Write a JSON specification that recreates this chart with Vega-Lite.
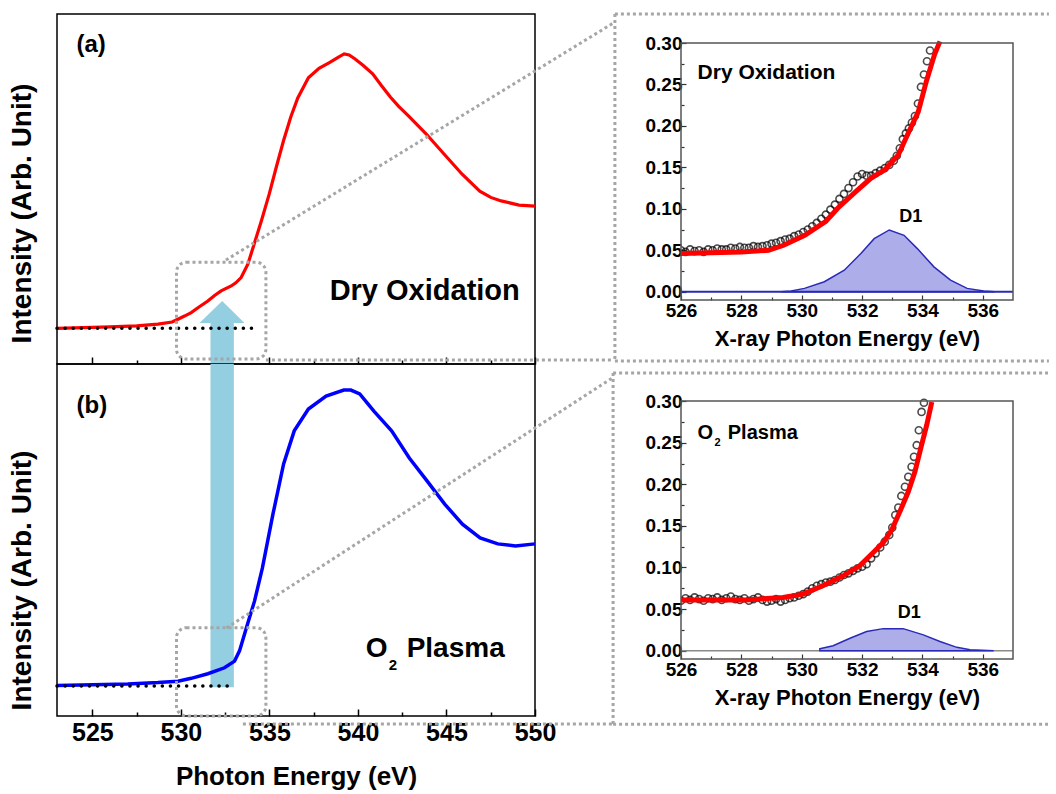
{
  "$schema": "https://vega.github.io/schema/vega-lite/v6.json",
  "padding": {"left": 7, "top": 12, "right": 0, "bottom": 0},
  "background": "white",
  "config": {
    "font": "Liberation Sans",
    "view": {"stroke": "black", "strokeWidth": 1.5},
    "axis": {"labelFont": "Liberation Sans", "titleFont": "Liberation Sans", "labelFontWeight": "bold", "titleFontWeight": "bold", "labelColor": "black", "titleColor": "black", "labelFlush": false, "labelOverlap": false, "grid": false, "domain": false},
    "text": {"font": "Liberation Sans", "fontWeight": "bold", "color": "black"}
  },
  "datasets": {
    "red": [
      {"energy": 523.0, "intensity": 0.102}, {"energy": 524.5, "intensity": 0.104}, {"energy": 526.0, "intensity": 0.106},
      {"energy": 527.5, "intensity": 0.109}, {"energy": 528.7, "intensity": 0.114}, {"energy": 529.5, "intensity": 0.120},
      {"energy": 529.83, "intensity": 0.128}, {"energy": 530.2, "intensity": 0.137}, {"energy": 530.58, "intensity": 0.147},
      {"energy": 531.0, "intensity": 0.162}, {"energy": 531.52, "intensity": 0.180}, {"energy": 531.9, "intensity": 0.196},
      {"energy": 532.27, "intensity": 0.209}, {"energy": 532.84, "intensity": 0.223}, {"energy": 533.1, "intensity": 0.232},
      {"energy": 533.4, "intensity": 0.247}, {"energy": 533.78, "intensity": 0.285}, {"energy": 534.15, "intensity": 0.345},
      {"energy": 534.55, "intensity": 0.41}, {"energy": 534.99, "intensity": 0.486}, {"energy": 535.4, "intensity": 0.565},
      {"energy": 535.79, "intensity": 0.637}, {"energy": 536.2, "intensity": 0.705}, {"energy": 536.6, "intensity": 0.760},
      {"energy": 537.2, "intensity": 0.818}, {"energy": 537.8, "intensity": 0.845}, {"energy": 538.41, "intensity": 0.862},
      {"energy": 538.9, "intensity": 0.877}, {"energy": 539.22, "intensity": 0.886}, {"energy": 539.5, "intensity": 0.883},
      {"energy": 539.82, "intensity": 0.872}, {"energy": 540.3, "intensity": 0.853}, {"energy": 540.83, "intensity": 0.829},
      {"energy": 541.3, "intensity": 0.797}, {"energy": 541.84, "intensity": 0.762}, {"energy": 542.3, "intensity": 0.736},
      {"energy": 542.85, "intensity": 0.709}, {"energy": 543.86, "intensity": 0.657}, {"energy": 544.86, "intensity": 0.600},
      {"energy": 545.87, "intensity": 0.543}, {"energy": 546.88, "intensity": 0.494}, {"energy": 547.5, "intensity": 0.476},
      {"energy": 548.09, "intensity": 0.466}, {"energy": 549.1, "intensity": 0.454}, {"energy": 550.0, "intensity": 0.451}
    ],
    "blue": [
      {"energy": 523.0, "intensity": 0.087}, {"energy": 525.0, "intensity": 0.089}, {"energy": 527.0, "intensity": 0.091},
      {"energy": 528.7, "intensity": 0.095}, {"energy": 529.83, "intensity": 0.099}, {"energy": 530.58, "intensity": 0.107},
      {"energy": 531.52, "intensity": 0.120}, {"energy": 532.46, "intensity": 0.137}, {"energy": 533.03, "intensity": 0.156},
      {"energy": 533.31, "intensity": 0.185}, {"energy": 533.59, "intensity": 0.232}, {"energy": 533.87, "intensity": 0.279},
      {"energy": 534.16, "intensity": 0.327}, {"energy": 534.6, "intensity": 0.420}, {"energy": 535.2, "intensity": 0.574},
      {"energy": 535.8, "intensity": 0.716}, {"energy": 536.4, "intensity": 0.810}, {"energy": 537.2, "intensity": 0.872},
      {"energy": 538.2, "intensity": 0.909}, {"energy": 539.2, "intensity": 0.926}, {"energy": 539.6, "intensity": 0.926},
      {"energy": 540.1, "intensity": 0.915}, {"energy": 540.9, "intensity": 0.866}, {"energy": 541.9, "intensity": 0.810},
      {"energy": 542.9, "intensity": 0.733}, {"energy": 543.9, "intensity": 0.668}, {"energy": 544.9, "intensity": 0.602},
      {"energy": 545.9, "intensity": 0.545}, {"energy": 546.9, "intensity": 0.506}, {"energy": 547.9, "intensity": 0.489},
      {"energy": 548.9, "intensity": 0.483}, {"energy": 550.0, "intensity": 0.489}
    ],
    "insA_pts": [
      {"energy": 526.0, "value": 0.050}, {"energy": 526.15, "value": 0.048}, {"energy": 526.3, "value": 0.051}, {"energy": 526.45, "value": 0.049},
      {"energy": 526.6, "value": 0.050}, {"energy": 526.75, "value": 0.048}, {"energy": 526.9, "value": 0.051}, {"energy": 527.05, "value": 0.050},
      {"energy": 527.2, "value": 0.052}, {"energy": 527.35, "value": 0.051}, {"energy": 527.5, "value": 0.051}, {"energy": 527.65, "value": 0.053},
      {"energy": 527.8, "value": 0.052}, {"energy": 527.95, "value": 0.054}, {"energy": 528.1, "value": 0.053}, {"energy": 528.25, "value": 0.053},
      {"energy": 528.4, "value": 0.055}, {"energy": 528.55, "value": 0.054}, {"energy": 528.7, "value": 0.055}, {"energy": 528.85, "value": 0.056},
      {"energy": 529.0, "value": 0.058}, {"energy": 529.15, "value": 0.059}, {"energy": 529.3, "value": 0.061}, {"energy": 529.45, "value": 0.063},
      {"energy": 529.6, "value": 0.064}, {"energy": 529.75, "value": 0.067}, {"energy": 529.9, "value": 0.069}, {"energy": 530.05, "value": 0.072},
      {"energy": 530.2, "value": 0.075}, {"energy": 530.35, "value": 0.079}, {"energy": 530.5, "value": 0.083}, {"energy": 530.65, "value": 0.088},
      {"energy": 530.8, "value": 0.093}, {"energy": 530.95, "value": 0.099}, {"energy": 531.1, "value": 0.105}, {"energy": 531.25, "value": 0.112},
      {"energy": 531.4, "value": 0.118}, {"energy": 531.55, "value": 0.125}, {"energy": 531.7, "value": 0.132}, {"energy": 531.85, "value": 0.139},
      {"energy": 532.0, "value": 0.142}, {"energy": 532.15, "value": 0.140}, {"energy": 532.3, "value": 0.140}, {"energy": 532.45, "value": 0.143},
      {"energy": 532.6, "value": 0.146}, {"energy": 532.75, "value": 0.149}, {"energy": 532.9, "value": 0.153}, {"energy": 533.05, "value": 0.158},
      {"energy": 533.15, "value": 0.164}, {"energy": 533.25, "value": 0.173}, {"energy": 533.35, "value": 0.184}, {"energy": 533.45, "value": 0.191},
      {"energy": 533.55, "value": 0.197}, {"energy": 533.65, "value": 0.204}, {"energy": 533.75, "value": 0.212}, {"energy": 533.85, "value": 0.227},
      {"energy": 533.95, "value": 0.247}, {"energy": 534.05, "value": 0.262}, {"energy": 534.15, "value": 0.278}, {"energy": 534.25, "value": 0.291}
    ],
    "insA_fit": [
      {"energy": 526.0, "value": 0.046}, {"energy": 527.0, "value": 0.047}, {"energy": 528.0, "value": 0.048}, {"energy": 528.9, "value": 0.050},
      {"energy": 529.4, "value": 0.056}, {"energy": 530.1, "value": 0.068}, {"energy": 530.8, "value": 0.085}, {"energy": 531.2, "value": 0.101},
      {"energy": 531.8, "value": 0.121}, {"energy": 532.3, "value": 0.137}, {"energy": 532.75, "value": 0.147}, {"energy": 533.2, "value": 0.165},
      {"energy": 533.5, "value": 0.189}, {"energy": 533.86, "value": 0.217}, {"energy": 534.13, "value": 0.254}, {"energy": 534.4, "value": 0.286},
      {"energy": 534.58, "value": 0.302}
    ],
    "insA_d1": [
      {"energy": 529.3, "value": 0.0}, {"energy": 529.65, "value": 0.001}, {"energy": 530.09, "value": 0.004}, {"energy": 530.75, "value": 0.012},
      {"energy": 531.41, "value": 0.026}, {"energy": 531.96, "value": 0.046}, {"energy": 532.4, "value": 0.064}, {"energy": 532.9, "value": 0.0745},
      {"energy": 533.39, "value": 0.068}, {"energy": 533.83, "value": 0.052}, {"energy": 534.38, "value": 0.030}, {"energy": 534.93, "value": 0.014},
      {"energy": 535.48, "value": 0.004}, {"energy": 536.03, "value": 0.001}, {"energy": 536.4, "value": 0.0}
    ],
    "insB_pts": [
      {"energy": 526.0, "value": 0.060}, {"energy": 526.15, "value": 0.063}, {"energy": 526.3, "value": 0.061}, {"energy": 526.45, "value": 0.064},
      {"energy": 526.6, "value": 0.062}, {"energy": 526.75, "value": 0.060}, {"energy": 526.9, "value": 0.063}, {"energy": 527.05, "value": 0.062},
      {"energy": 527.2, "value": 0.064}, {"energy": 527.35, "value": 0.061}, {"energy": 527.5, "value": 0.063}, {"energy": 527.65, "value": 0.065},
      {"energy": 527.8, "value": 0.062}, {"energy": 527.95, "value": 0.061}, {"energy": 528.1, "value": 0.063}, {"energy": 528.25, "value": 0.060},
      {"energy": 528.4, "value": 0.062}, {"energy": 528.55, "value": 0.064}, {"energy": 528.7, "value": 0.061}, {"energy": 528.85, "value": 0.059},
      {"energy": 529.0, "value": 0.060}, {"energy": 529.15, "value": 0.062}, {"energy": 529.3, "value": 0.059}, {"energy": 529.45, "value": 0.061},
      {"energy": 529.6, "value": 0.063}, {"energy": 529.75, "value": 0.064}, {"energy": 529.9, "value": 0.066}, {"energy": 530.05, "value": 0.068},
      {"energy": 530.2, "value": 0.071}, {"energy": 530.35, "value": 0.075}, {"energy": 530.5, "value": 0.078}, {"energy": 530.65, "value": 0.080},
      {"energy": 530.8, "value": 0.082}, {"energy": 530.95, "value": 0.083}, {"energy": 531.1, "value": 0.085}, {"energy": 531.25, "value": 0.088},
      {"energy": 531.4, "value": 0.091}, {"energy": 531.55, "value": 0.093}, {"energy": 531.7, "value": 0.096}, {"energy": 531.85, "value": 0.099},
      {"energy": 532.0, "value": 0.101}, {"energy": 532.15, "value": 0.104}, {"energy": 532.3, "value": 0.111}, {"energy": 532.45, "value": 0.117},
      {"energy": 532.6, "value": 0.124}, {"energy": 532.75, "value": 0.131}, {"energy": 532.9, "value": 0.139}, {"energy": 533.0, "value": 0.148},
      {"energy": 533.1, "value": 0.163}, {"energy": 533.2, "value": 0.172}, {"energy": 533.3, "value": 0.186}, {"energy": 533.42, "value": 0.197},
      {"energy": 533.53, "value": 0.209}, {"energy": 533.64, "value": 0.221}, {"energy": 533.72, "value": 0.233}, {"energy": 533.81, "value": 0.247},
      {"energy": 533.88, "value": 0.265}, {"energy": 533.97, "value": 0.287}, {"energy": 534.05, "value": 0.298}
    ],
    "insB_fit": [
      {"energy": 526.0, "value": 0.061}, {"energy": 527.0, "value": 0.061}, {"energy": 528.16, "value": 0.061}, {"energy": 529.38, "value": 0.064},
      {"energy": 530.04, "value": 0.068}, {"energy": 530.7, "value": 0.078}, {"energy": 531.37, "value": 0.090}, {"energy": 531.92, "value": 0.102},
      {"energy": 532.37, "value": 0.118}, {"energy": 532.7, "value": 0.130}, {"energy": 532.98, "value": 0.145}, {"energy": 533.25, "value": 0.167},
      {"energy": 533.53, "value": 0.191}, {"energy": 533.75, "value": 0.215}, {"energy": 533.97, "value": 0.247}, {"energy": 534.14, "value": 0.271},
      {"energy": 534.31, "value": 0.299}
    ],
    "insB_d1": [
      {"energy": 530.6, "value": 0.0024}, {"energy": 531.04, "value": 0.006}, {"energy": 531.6, "value": 0.015}, {"energy": 532.15, "value": 0.023},
      {"energy": 532.7, "value": 0.0265}, {"energy": 533.36, "value": 0.0265}, {"energy": 534.03, "value": 0.019}, {"energy": 534.58, "value": 0.011},
      {"energy": 535.14, "value": 0.004}, {"energy": 535.58, "value": 0.0012}, {"energy": 536.36, "value": 0.0}
    ]
  },
  "bounds": "flush",
  "spacing": 624,
  "hconcat": [
    {
      "bounds": "flush",
      "spacing": 0,
      "vconcat": [
        {
          "width": 478, "height": 350,
          "encoding": {
            "x": {"field": "energy", "type": "quantitative", "scale": {"domain": [523, 550], "nice": false, "zero": false},
              "axis": {"values": [525, 527.5, 530, 532.5, 535, 537.5, 540, 542.5, 545, 547.5, 550], "labels": false, "title": null, "tickColor": "black", "tickWidth": 1.5,
                "tickSize": {"condition": {"test": "datum.value % 5 === 0", "value": -7}, "value": -4}}},
            "y": {"field": "intensity", "type": "quantitative", "scale": {"domain": [0, 1], "nice": false, "zero": false},
              "axis": {"title": "Intensity (Arb. Unit)", "labels": false, "ticks": false, "titleFontSize": 28, "titlePadding": 21, "titleY": 199}}
          },
          "layer": [
            {"data": {"values": [{"energy": 531.67, "energy2": 532.99, "intensity": 0, "intensity2": 0.117}]},
             "mark": {"type": "rect", "color": "#93cfe0"},
             "encoding": {"x2": {"field": "energy2"}, "y2": {"field": "intensity2"}}},
            {"data": {"values": [{"energy": 531.05, "intensity": 0.117}, {"energy": 532.33, "intensity": 0.18}, {"energy": 533.59, "intensity": 0.117}]},
             "mark": {"type": "area", "color": "#93cfe0"},
             "encoding": {"y2": {"datum": 0.117}}},
            {"data": {"name": "red"}, "mark": {"type": "line", "color": "#ff0000", "strokeWidth": 3.2}},
            {"data": {"values": [{"energy": 523, "energy2": 534.15, "intensity": 0.102}]},
             "mark": {"type": "rule", "color": "black", "strokeWidth": 3.5, "strokeDash": [0.1, 8], "strokeCap": "round"},
             "encoding": {"x2": {"field": "energy2"}}},
            {"data": {"values": [{"energy": 529.75, "energy2": 534.8, "intensity": 0.014, "intensity2": 0.291}]},
             "mark": {"type": "rect", "filled": false, "color": "#a6a6a6", "strokeWidth": 3, "strokeDash": [3, 3], "cornerRadius": 10, "clip": false},
             "encoding": {"x2": {"field": "energy2"}, "y2": {"field": "intensity2"}}},
            {"data": {"values": [{"energy": 532.54, "energy2": 554.45, "intensity": 0.297, "intensity2": 0.975}, {"energy": 534.8, "energy2": 554.45, "intensity": 0.0114, "intensity2": 0.0114}]},
             "mark": {"type": "rule", "color": "#a6a6a6", "strokeWidth": 3, "strokeDash": [3, 3], "clip": false},
             "encoding": {"x2": {"field": "energy2"}, "y2": {"field": "intensity2"}}},
            {"data": {"values": [{"energy": 524.1, "intensity": 0.911, "label": "(a)"}]},
             "mark": {"type": "text", "align": "left", "baseline": "middle", "fontSize": 24},
             "encoding": {"text": {"field": "label"}}},
            {"data": {"values": [{"energy": 538.4, "intensity": 0.209, "label": "Dry Oxidation"}]},
             "mark": {"type": "text", "align": "left", "baseline": "middle", "fontSize": 29},
             "encoding": {"text": {"field": "label"}}}
          ]
        },
        {
          "width": 478, "height": 352,
          "encoding": {
            "x": {"field": "energy", "type": "quantitative", "scale": {"domain": [523, 550], "nice": false, "zero": false},
              "axis": {"values": [525, 527.5, 530, 532.5, 535, 537.5, 540, 542.5, 545, 547.5, 550], "labelExpr": "datum.value % 5 === 0 ? datum.label : ''", "title": "Photon Energy (eV)",
                "tickColor": "black", "tickWidth": 1.5, "tickSize": {"condition": {"test": "datum.value % 5 === 0", "value": -7}, "value": -4},
                "labelFontSize": 25, "labelPadding": 11, "titleFontSize": 26, "titlePadding": 15}},
            "y": {"field": "intensity", "type": "quantitative", "scale": {"domain": [0, 1], "nice": false, "zero": false},
              "axis": {"title": "Intensity (Arb. Unit)", "labels": false, "ticks": false, "titleFontSize": 28, "titlePadding": 21, "titleY": 216}}
          },
          "layer": [
            {"data": {"values": [{"energy": 531.67, "energy2": 532.99, "intensity": 0.082, "intensity2": 1.0}]},
             "mark": {"type": "rect", "color": "#93cfe0"},
             "encoding": {"x2": {"field": "energy2"}, "y2": {"field": "intensity2"}}},
            {"data": {"name": "blue"}, "mark": {"type": "line", "color": "#0000ff", "strokeWidth": 3.5}},
            {"data": {"values": [{"energy": 523, "energy2": 532.97, "intensity": 0.085}]},
             "mark": {"type": "rule", "color": "black", "strokeWidth": 3.5, "strokeDash": [0.1, 8], "strokeCap": "round"},
             "encoding": {"x2": {"field": "energy2"}}},
            {"data": {"values": [{"energy": 529.75, "energy2": 534.8, "intensity": 0.0, "intensity2": 0.251}]},
             "mark": {"type": "rect", "filled": false, "color": "#a6a6a6", "strokeWidth": 3, "strokeDash": [3, 3], "cornerRadius": 10, "clip": false},
             "encoding": {"x2": {"field": "energy2"}, "y2": {"field": "intensity2"}}},
            {"data": {"values": [{"energy": 532.57, "energy2": 554.45, "intensity": 0.25, "intensity2": 0.963}, {"energy": 533.5, "energy2": 554.45, "intensity": -0.023, "intensity2": -0.023}]},
             "mark": {"type": "rule", "color": "#a6a6a6", "strokeWidth": 3, "strokeDash": [3, 3], "clip": false},
             "encoding": {"x2": {"field": "energy2"}, "y2": {"field": "intensity2"}}},
            {"data": {"values": [{"energy": 524.1, "intensity": 0.881, "label": "(b)"}]},
             "mark": {"type": "text", "align": "left", "baseline": "middle", "fontSize": 24},
             "encoding": {"text": {"field": "label"}}},
            {"data": {"values": [{"energy": 540.44, "intensity": 0.19, "label": "O"}, {"energy": 542.75, "intensity": 0.19, "label": "Plasma"}]},
             "mark": {"type": "text", "align": "left", "baseline": "middle", "fontSize": 28},
             "encoding": {"text": {"field": "label"}}},
            {"data": {"values": [{"energy": 541.74, "intensity": 0.145, "label": "2"}]},
             "mark": {"type": "text", "align": "left", "baseline": "middle", "fontSize": 15},
             "encoding": {"text": {"field": "label"}}}
          ]
        }
      ]
    },
    {
      "bounds": "flush",
      "spacing": 73,
      "vconcat": [
        {
          "width": 332, "height": 286,
          "view": {"stroke": null},
          "encoding": {
            "x": {"field": "energy", "type": "quantitative", "scale": {"domain": [526, 537], "nice": false, "zero": false},
              "axis": {"values": [526, 527, 528, 529, 530, 531, 532, 533, 534, 535, 536], "labelExpr": "datum.value % 2 === 0 ? datum.label : ''", "title": "X-ray Photon Energy (eV)",
                "tickColor": "#333333", "tickWidth": 1.2, "tickSize": {"condition": {"test": "datum.value % 2 === 0", "value": -5}, "value": -3},
                "labelFontSize": 19, "labelPadding": 6, "titleFontSize": 22, "titlePadding": 6}},
            "y": {"field": "value", "type": "quantitative", "scale": {"domain": [-0.01, 0.335], "nice": false, "zero": false},
              "axis": {"values": [0, 0.025, 0.05, 0.075, 0.1, 0.125, 0.15, 0.175, 0.2, 0.225, 0.25, 0.275, 0.3],
                "labelExpr": "abs(datum.value*20-round(datum.value*20)) < 0.001 ? format(datum.value, '.2f') : ''", "title": null,
                "tickColor": "#333333", "tickWidth": 1.2, "tickSize": {"condition": {"test": "abs(datum.value*20-round(datum.value*20)) < 0.001", "value": -5}, "value": -3},
                "labelFontSize": 19, "labelPadding": 4}}
          },
          "layer": [
            {"data": {"values": [
              {"energy": 523.81, "energy2": 538.19, "value": 0.335, "value2": 0.335},
              {"energy": 523.81, "energy2": 523.81, "value": 0.335, "value2": -0.0835},
              {"energy": 523.81, "energy2": 538.19, "value": -0.0835, "value2": -0.0835}]},
             "mark": {"type": "rule", "color": "#a6a6a6", "strokeWidth": 3, "strokeDash": [3, 3], "clip": false},
             "encoding": {"x2": {"field": "energy2"}, "y2": {"field": "value2"}}},
            {"data": {"name": "insA_d1"}, "mark": {"type": "area", "fill": "#adadea", "stroke": "#2a2ab8", "strokeWidth": 1.5}},
            {"data": {"values": [{"energy": 526, "energy2": 537, "value": 0}]},
             "mark": {"type": "rule", "color": "#2a2ab8", "strokeWidth": 2},
             "encoding": {"x2": {"field": "energy2"}}},
            {"data": {"name": "insA_pts"}, "mark": {"type": "point", "shape": "circle", "filled": false, "color": "black", "size": 50, "strokeWidth": 1.6, "clip": true}},
            {"data": {"name": "insA_fit"}, "mark": {"type": "line", "color": "#ff0000", "strokeWidth": 5, "clip": true}},
            {"data": {"values": [{"energy": 526, "energy2": 537, "value": -0.01, "value2": 0.3}]},
             "mark": {"type": "rect", "filled": false, "color": "#555555", "strokeWidth": 1.5},
             "encoding": {"x2": {"field": "energy2"}, "y2": {"field": "value2"}}},
            {"data": {"values": [{"energy": 526.55, "value": 0.2638, "label": "Dry Oxidation"}]},
             "mark": {"type": "text", "align": "left", "baseline": "middle", "fontSize": 21},
             "encoding": {"text": {"field": "label"}}},
            {"data": {"values": [{"energy": 533.61, "value": 0.0906, "label": "D1"}]},
             "mark": {"type": "text", "align": "center", "baseline": "middle", "fontSize": 18},
             "encoding": {"text": {"field": "label"}}}
          ]
        },
        {
          "width": 332, "height": 286,
          "view": {"stroke": null},
          "encoding": {
            "x": {"field": "energy", "type": "quantitative", "scale": {"domain": [526, 537], "nice": false, "zero": false},
              "axis": {"values": [526, 527, 528, 529, 530, 531, 532, 533, 534, 535, 536], "labelExpr": "datum.value % 2 === 0 ? datum.label : ''", "title": "X-ray Photon Energy (eV)",
                "tickColor": "#333333", "tickWidth": 1.2, "tickSize": {"condition": {"test": "datum.value % 2 === 0", "value": -5}, "value": -3},
                "labelFontSize": 19, "labelPadding": 6, "titleFontSize": 22, "titlePadding": 6}},
            "y": {"field": "value", "type": "quantitative", "scale": {"domain": [-0.01, 0.3338], "nice": false, "zero": false},
              "axis": {"values": [0, 0.025, 0.05, 0.075, 0.1, 0.125, 0.15, 0.175, 0.2, 0.225, 0.25, 0.275, 0.3],
                "labelExpr": "abs(datum.value*20-round(datum.value*20)) < 0.001 ? format(datum.value, '.2f') : ''", "title": null,
                "tickColor": "#333333", "tickWidth": 1.2, "tickSize": {"condition": {"test": "abs(datum.value*20-round(datum.value*20)) < 0.001", "value": -5}, "value": -3},
                "labelFontSize": 19, "labelPadding": 4}}
          },
          "layer": [
            {"data": {"values": [
              {"energy": 523.75, "energy2": 538.16, "value": 0.3338, "value2": 0.3338},
              {"energy": 523.75, "energy2": 523.75, "value": 0.3338, "value2": -0.0884},
              {"energy": 523.75, "energy2": 538.16, "value": -0.0884, "value2": -0.0884}]},
             "mark": {"type": "rule", "color": "#a6a6a6", "strokeWidth": 3, "strokeDash": [3, 3], "clip": false},
             "encoding": {"x2": {"field": "energy2"}, "y2": {"field": "value2"}}},
            {"data": {"values": [{"energy": 526, "energy2": 537, "value": 0}]},
             "mark": {"type": "rule", "color": "#8a8a8a", "strokeWidth": 1.5},
             "encoding": {"x2": {"field": "energy2"}}},
            {"data": {"name": "insB_d1"}, "mark": {"type": "area", "fill": "#adadea", "stroke": "#2a2ab8", "strokeWidth": 1.5}},
            {"data": {"name": "insB_pts"}, "mark": {"type": "point", "shape": "circle", "filled": false, "color": "black", "size": 50, "strokeWidth": 1.6, "clip": true}},
            {"data": {"name": "insB_fit"}, "mark": {"type": "line", "color": "#ff0000", "strokeWidth": 5, "clip": true}},
            {"data": {"values": [{"energy": 526, "energy2": 537, "value": -0.01, "value2": 0.3}]},
             "mark": {"type": "rect", "filled": false, "color": "#555555", "strokeWidth": 1.5},
             "encoding": {"x2": {"field": "energy2"}, "y2": {"field": "value2"}}},
            {"data": {"values": [{"energy": 526.55, "value": 0.2619, "label": "O"}, {"energy": 527.55, "value": 0.2619, "label": "Plasma"}]},
             "mark": {"type": "text", "align": "left", "baseline": "middle", "fontSize": 20},
             "encoding": {"text": {"field": "label"}}},
            {"data": {"values": [{"energy": 527.11, "value": 0.2498, "label": "2"}]},
             "mark": {"type": "text", "align": "left", "baseline": "middle", "fontSize": 11},
             "encoding": {"text": {"field": "label"}}},
            {"data": {"values": [{"energy": 533.56, "value": 0.0453, "label": "D1"}]},
             "mark": {"type": "text", "align": "center", "baseline": "middle", "fontSize": 18},
             "encoding": {"text": {"field": "label"}}}
          ]
        }
      ]
    }
  ]
}
